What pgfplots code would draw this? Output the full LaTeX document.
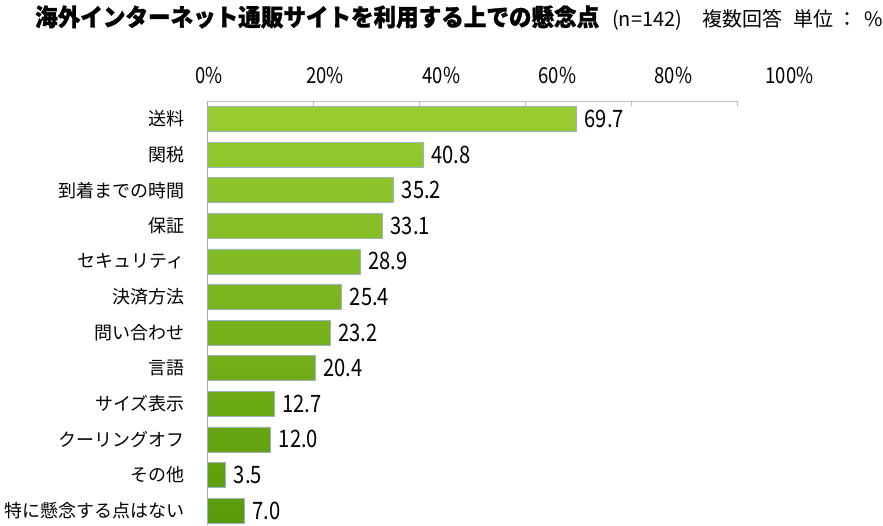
\documentclass[border=0pt]{standalone}
\usepackage{fontspec}
\usepackage{pgfplots}
\pgfplotsset{compat=1.18}
\setmainfont{Noto Sans CJK JP}
\newfontfamily\titlefont[FakeStretch=0.94, BoldFeatures={FakeBold=1.2}]{Noto Sans CJK JP}
\newfontfamily\numfont[FakeStretch=0.84]{Noto Sans CJK JP}
\definecolor{gtop}{HTML}{9ACD32}
\definecolor{gbot}{HTML}{589A08}
\definecolor{gedge}{HTML}{9DB3C8}
\definecolor{axgray}{HTML}{BFBFBF}
\begin{document}
\begin{tikzpicture}
\path[use as bounding box] (0,0) rectangle (883pt,-525pt);
\node[anchor=base west, inner sep=0pt, font=\titlefont\bfseries\fontsize{24}{24}\selectfont] at (35pt,-26pt) {海外インターネット通販サイトを利用する上での懸念点};
\begin{scope}[every node/.style={inner sep=0pt, font=\fontsize{20}{20}\selectfont}]
\node[anchor=base west] at (612pt,-26pt) {(n=142)};
\node[anchor=base west] at (702pt,-26pt) {複数回答};
\node[anchor=base west] at (793pt,-26pt) {単位};
\node[anchor=base west] at (837pt,-26pt) {：};
\node[anchor=base east] at (883pt,-26pt) {\%};
\end{scope}
\begin{axis}[
  at={(207pt,-101pt)}, anchor=north west,
  scale only axis, width=530pt, height=424pt,
  xmin=0, xmax=100, ymin=-0.404, ymax=11.506,
  clip=false,
  axis x line*=top, axis y line*=left,
  x axis line style={draw=axgray, line width=0.8pt},
  y axis line style={draw=gedge, line width=0.8pt},
  xtick={0,20,40,60,80,100}, xticklabels={},
  xtick align=inside, major tick length=5pt,
  x tick style={draw=axgray, line width=0.8pt},
  ytick={0,1,2,3,4,5,6,7,8,9,10,11},
  yticklabels={特に懸念する点はない,その他,クーリングオフ,サイズ表示,言語,問い合わせ,決済方法,セキュリティ,保証,到着までの時間,関税,送料},
  y tick style={draw=none},
  yticklabel style={font=\fontsize{18}{18}\selectfont, anchor=east, inner sep=0pt, xshift=-22pt},
  nodes near coords={\pgfmathprintnumber[fixed,fixed zerofill,precision=1,assume math mode=true]{\pgfplotspointmeta}},
  nodes near coords style={font=\numfont\fontsize{24}{24}\selectfont, anchor=west, xshift=8pt, inner sep=0pt},
  point meta=x,
]
\addplot[xbar, bar width=25pt, top color=gtop, bottom color=gbot, draw=gedge, line width=0.6pt]
coordinates {(69.7,11) (40.8,10) (35.2,9) (33.1,8) (28.9,7) (25.4,6) (23.2,5) (20.4,4) (12.7,3) (12.0,2) (3.5,1) (7.0,0)};
\node[font=\numfont\fontsize{22}{22}\selectfont] at (axis cs:0.4,12.236) {0\%};
\node[font=\numfont\fontsize{22}{22}\selectfont] at (axis cs:22.3,12.236) {20\%};
\node[font=\numfont\fontsize{22}{22}\selectfont] at (axis cs:44.2,12.236) {40\%};
\node[font=\numfont\fontsize{22}{22}\selectfont] at (axis cs:66.1,12.236) {60\%};
\node[font=\numfont\fontsize{22}{22}\selectfont] at (axis cs:88.0,12.236) {80\%};
\node[font=\numfont\fontsize{22}{22}\selectfont] at (axis cs:109.9,12.236) {100\%};
\end{axis}
\end{tikzpicture}
\end{document}
